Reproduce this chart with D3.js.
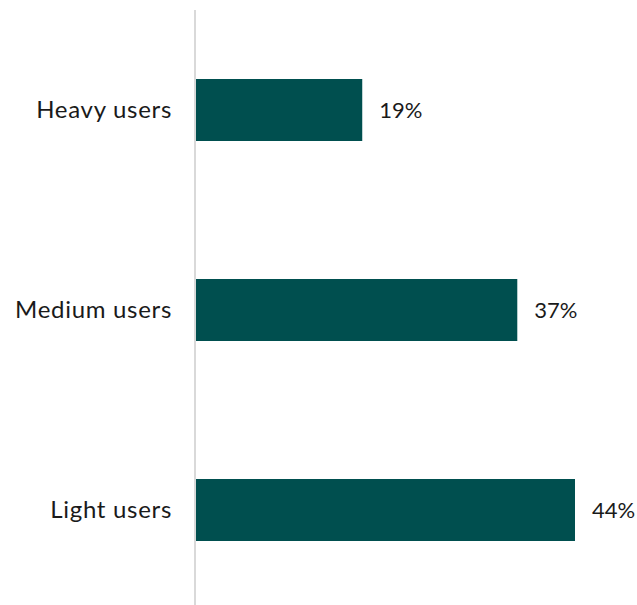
<!DOCTYPE html>
<html>
<head>
<meta charset="utf-8">
<script src="https://cdn.jsdelivr.net/npm/d3@7"></script>
<style>
  body { margin: 0; background: #fff; }
  text { font-family: "Lato", "Noto Sans", sans-serif; fill: #1a1a1a; }
</style>
</head>
<body>
<div id="chart"></div>
<script>
const categories = ["Heavy users", "Medium users", "Light users"];
const values = [19.3, 37.3, 44];   // bar lengths as measured
const valueLabels = ["19%", "37%", "44%"];

const width = 637, height = 605;
const axisX = 195;

const svg = d3.select("#chart").append("svg")
    .attr("width", width)
    .attr("height", height);

// Y scale
const y = d3.scaleBand()
    .domain(categories)
    .range([10, 610])
    .paddingInner(0.69)
    .paddingOuter(0.345);

// X scale
const x = d3.scaleLinear()
    .domain([0, 44])
    .range([axisX + 1, 575]);

// axis line
svg.append("line")
    .attr("x1", axisX).attr("x2", axisX)
    .attr("y1", 10).attr("y2", height)
    .attr("stroke", "#d9d9d9")
    .attr("stroke-width", 2);

const data = categories.map((c, i) => ({cat: c, value: values[i], label: valueLabels[i]}));

// Bars
svg.selectAll(".bar")
    .data(data)
    .enter().append("rect")
    .attr("class", "bar")
    .attr("x", x(0))
    .attr("y", d => y(d.cat))
    .attr("width", d => x(d.value) - x(0))
    .attr("height", y.bandwidth())
    .attr("fill", "#004f4f");

// category labels
svg.selectAll(".cat")
    .data(data)
    .enter().append("text")
    .attr("class", "cat")
    .attr("x", 172)
    .attr("y", d => y(d.cat) + y.bandwidth() / 2)
    .attr("dy", "0.35em")
    .attr("text-anchor", "end")
    .attr("font-size", "24px")
    .attr("letter-spacing", "0.7px")
    .text(d => d.cat);

// value labels
svg.selectAll(".val")
    .data(data)
    .enter().append("text")
    .attr("class", "val")
    .attr("x", d => x(d.value) + 17)
    .attr("y", d => y(d.cat) + y.bandwidth() / 2)
    .attr("dy", "0.35em")
    .attr("font-size", "22px")
    .text(d => d.label);
</script>
</body>
</html>
